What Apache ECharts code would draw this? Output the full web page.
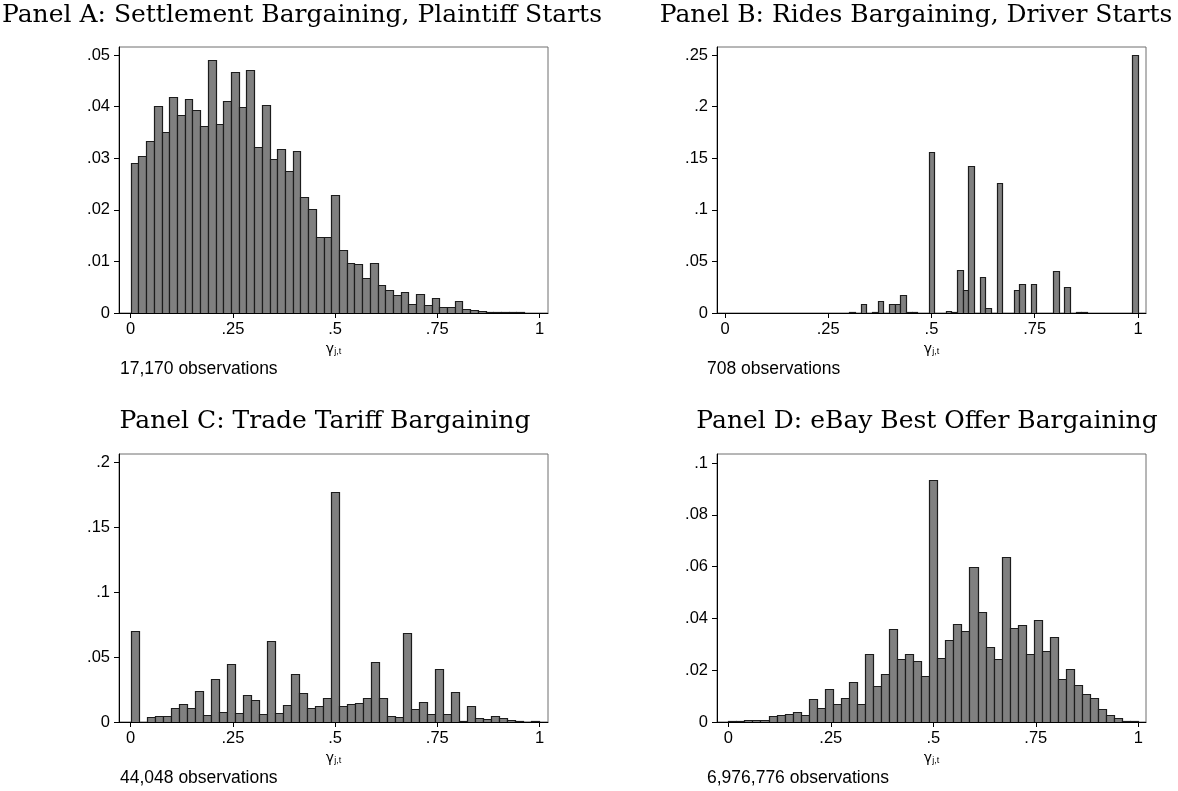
<!DOCTYPE html>
<html>
<head>
<meta charset="utf-8">
<script src="https://cdn.jsdelivr.net/npm/echarts@6/dist/echarts.min.js"></script>
<style>
html,body{margin:0;padding:0;background:#fff;}
#chart{width:1178px;height:791px;}
</style>
</head>
<body>
<div id="chart"></div>
<script>
// ---- Data (histogram densities) ----
const panelTitles = [
  "Panel A: Settlement Bargaining, Plaintiff Starts",
  "Panel B: Rides Bargaining, Driver Starts",
  "Panel C: Trade Tariff Bargaining",
  "Panel D: eBay Best Offer Bargaining"
];
const panelNotes = ["17,170 observations", "708 observations", "44,048 observations", "6,976,776 observations"];
const xTicks = [0, 0.25, 0.5, 0.75, 1];
const yTicksA = [0, 0.01, 0.02, 0.03, 0.04, 0.05];
const yTicksB = [0, 0.05, 0.1, 0.15, 0.2, 0.25];
const yTicksC = [0, 0.05, 0.1, 0.15, 0.2];
const yTicksD = [0, 0.02, 0.04, 0.06, 0.08, 0.1];

// Panel A: 53 bins on [0,1]
const heightsA = [0.0290,0.0304,0.0334,0.0402,0.0350,0.0418,0.0383,0.0414,0.0394,0.0363,
  0.0490,0.0367,0.0410,0.0468,0.0400,0.0470,0.0321,0.0403,0.0299,0.0317,
  0.0275,0.0313,0.0224,0.0201,0.0148,0.0148,0.0228,0.0123,0.0097,0.0095,
  0.0068,0.0096,0.0054,0.0044,0.0035,0.0040,0.0017,0.0036,0.0016,0.0030,
  0.0012,0.0012,0.0023,0.0008,0.0006,0.0003,0.0002,0.0002,0.0001,0.0001,
  0.0002,0,0];
// Panel B: 73 bins on [0,1]
const heightsB = [0,0,0,0,0,0,0,0,0,0,
  0,0,0,0,0,0,0,0,0,0,
  0,0,0.0010,0,0.0087,0,0.0010,0.0116,0,0.0087,
  0.0087,0.0174,0.0010,0.0010,0,0,0.1565,0,0,0.0019,
  0.0006,0.0416,0.0219,0.1423,0,0.0348,0.0048,0,0.1258,0,
  0,0.0219,0.0277,0,0.0277,0,0,0,0.0403,0,
  0.0248,0,0.0010,0.0010,0,0,0,0,0,0,
  0,0,0.2503];
// Panel C: 51 bins on [0,1]
const heightsC = [0.0703,0,0.0038,0.0046,0.0046,0.0108,0.0138,0.0108,0.0238,0.0054,
  0.0328,0.0074,0.0446,0.0069,0.0205,0.0169,0.0059,0.0623,0.0069,0.0131,
  0.0369,0.0223,0.0108,0.0125,0.0185,0.1772,0.0123,0.0141,0.0149,0.0187,
  0.0464,0.0185,0.0049,0.0038,0.0685,0.0103,0.0154,0.0064,0.0410,0.0062,
  0.0231,0.0010,0.0125,0.0028,0.0021,0.0046,0.0028,0.0015,0.0005,0.0003,0.0010];
// Panel D: 51 bins on [0,1]
const heightsD = [0.0004,0.0004,0.0006,0.0009,0.0009,0.0024,0.0026,0.0031,0.0040,0.0028,
  0.0089,0.0054,0.0129,0.0068,0.0093,0.0156,0.0069,0.0264,0.0139,0.0185,
  0.0360,0.0242,0.0264,0.0237,0.0178,0.0936,0.0248,0.0318,0.0380,0.0353,
  0.0600,0.0426,0.0290,0.0245,0.0637,0.0363,0.0376,0.0264,0.0394,0.0273,
  0.0328,0.0166,0.0206,0.0144,0.0109,0.0091,0.0049,0.0028,0.0014,0.0004,0.0003];

// ---- Layout ----
const panels = [
  {h: heightsA, yTicks: yTicksA, grid:{left:119, top:47, width:429, height:266}, xmin:-0.0286, xmax:1.0208, ymax:0.05155, title:{x:302, y:15}, note:{x:120, y:369}},
  {h: heightsB, yTicks: yTicksB, grid:{left:717, top:47, width:429, height:266}, xmin:-0.0194, xmax:1.0194, ymax:0.2578, title:{x:916, y:15}, note:{x:707, y:369}},
  {h: heightsC, yTicks: yTicksC, grid:{left:119, top:454, width:429, height:268}, xmin:-0.0286, xmax:1.0208, ymax:0.2062, title:{x:325, y:421}, note:{x:120, y:778}},
  {h: heightsD, yTicks: yTicksD, grid:{left:717, top:454, width:429, height:268}, xmin:-0.0276, xmax:1.0188, ymax:0.1035, title:{x:927, y:421}, note:{x:707, y:778}}
];

function fmt(v){
  if (v === 0) return '0';
  let s = String(+v.toFixed(4));
  return s.replace(/^0\./, '.');
}

const chart = echarts.init(document.getElementById('chart'), null, {renderer:'canvas'});
const grids = [], xAxes = [], yAxes = [], series = [], graphics = [];
const sans = 'Liberation Sans, Arial, Helvetica, sans-serif';

panels.forEach((p, i) => {
  grids.push(Object.assign({show:true, borderColor:'#6e6e6e', borderWidth:1, containLabel:false}, p.grid));
  xAxes.push({
    gridIndex:i, type:'value', min:p.xmin, max:p.xmax,
    axisLine:{show:true, onZero:false, lineStyle:{color:'#000', width:1}},
    axisTick:{show:true, length:5, lineStyle:{color:'#000'}, customValues:xTicks},
    axisLabel:{show:true, margin:8, color:'#000', fontFamily:sans, fontSize:16.5, customValues:xTicks, formatter:fmt},
    splitLine:{show:false},
    name:'{g|γ}{s|j,t}', nameLocation:'middle', nameGap:29,
    nameTextStyle:{rich:{g:{fontFamily:'DejaVu Sans, sans-serif', fontSize:14, color:'#000'}, s:{fontFamily:sans, fontSize:9, color:'#000', verticalAlign:'bottom', padding:[5,0,0,0]}}}
  });
  yAxes.push({
    gridIndex:i, type:'value', min:0, max:p.ymax,
    axisLine:{show:true, onZero:false, lineStyle:{color:'#000', width:1}},
    axisTick:{show:true, length:5, lineStyle:{color:'#000'}, customValues:p.yTicks},
    axisLabel:{show:true, margin:9, color:'#000', fontFamily:sans, fontSize:16.5, customValues:p.yTicks, formatter:fmt},
    splitLine:{show:false}
  });
  const nb = p.h.length, w = 1 / nb;
  const data = [];
  p.h.forEach((v, k) => { if (v > 0) data.push([k * w, (k + 1) * w, v]); });
  series.push({
    type:'custom', xAxisIndex:i, yAxisIndex:i, data:data, clip:true,
    encode:{x:[0,1], y:2},
    renderItem:function(params, api){
      const a = api.coord([api.value(0), 0]);
      const b = api.coord([api.value(1), api.value(2)]);
      const x0 = Math.round(a[0]) + 0.5, x1 = Math.round(b[0]) + 0.5;
      const y0 = Math.round(a[1]) + 0.5, y1 = Math.round(b[1]) + 0.5;
      return {type:'rect', shape:{x:x0, y:y1, width:x1 - x0, height:Math.max(y0 - y1, 0.5)},
        style:{fill:'#808080', stroke:'#1c1c1c', lineWidth:1.2}};
    }
  });
  graphics.push({type:'text', x:p.title.x, y:p.title.y, style:{text:panelTitles[i], font:'25px "DejaVu Serif", serif', fill:'#000', textAlign:'center', textVerticalAlign:'middle'}});
  graphics.push({type:'text', x:p.note.x, y:p.note.y, style:{text:panelNotes[i], font:'17.5px ' + sans, fill:'#000', textAlign:'left', textVerticalAlign:'middle'}});
});

chart.setOption({
  animation:false,
  backgroundColor:'#fff',
  grid:grids, xAxis:xAxes, yAxis:yAxes, series:series, graphic:graphics
});
</script>
</body>
</html>
